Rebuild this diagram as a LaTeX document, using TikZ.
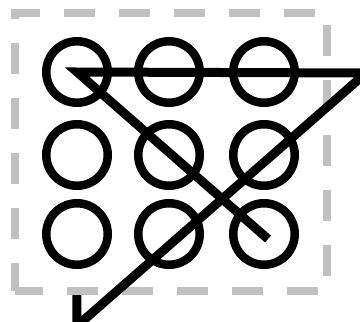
\documentclass[tikz,border=0pt]{standalone}
\usepackage{tikz}
\usepackage{xcolor}

\definecolor{framegray}{HTML}{C0C0C0}
\tikzset{
  dot/.style={circle, draw=black, line width=8.5pt, minimum size=61.5pt, inner sep=0pt},
  frame/.style={framegray, line width=8pt, dash pattern=on 31pt off 24pt, dash phase=3pt},
  swipe/.style={black, line width=9pt, line join=miter}
}

\begin{document}
\begin{tikzpicture}[x=1pt,y=-1pt]
\useasboundingbox (0,0) rectangle (360,322);
\clip (0,0) rectangle (360,322);
% dashed frame
\draw[frame] (15,291) rectangle (327,13);
% grid of dots
\foreach \x/\i in {77/1,169/2,264/3}
  \foreach \y/\j in {72/1,155/2,234/3}
    \node[dot] (c\j\i) at (\x,\y) {};
% pattern
\coordinate (tail) at (77,295);
\coordinate (low) at (77,326);
\coordinate (far) at (366,73);
\coordinate (tip) at (268,239);
\draw[swipe] (tail) -- (low) -- (far) -- (c11.center) -- (tip);
\end{tikzpicture}
\end{document}
